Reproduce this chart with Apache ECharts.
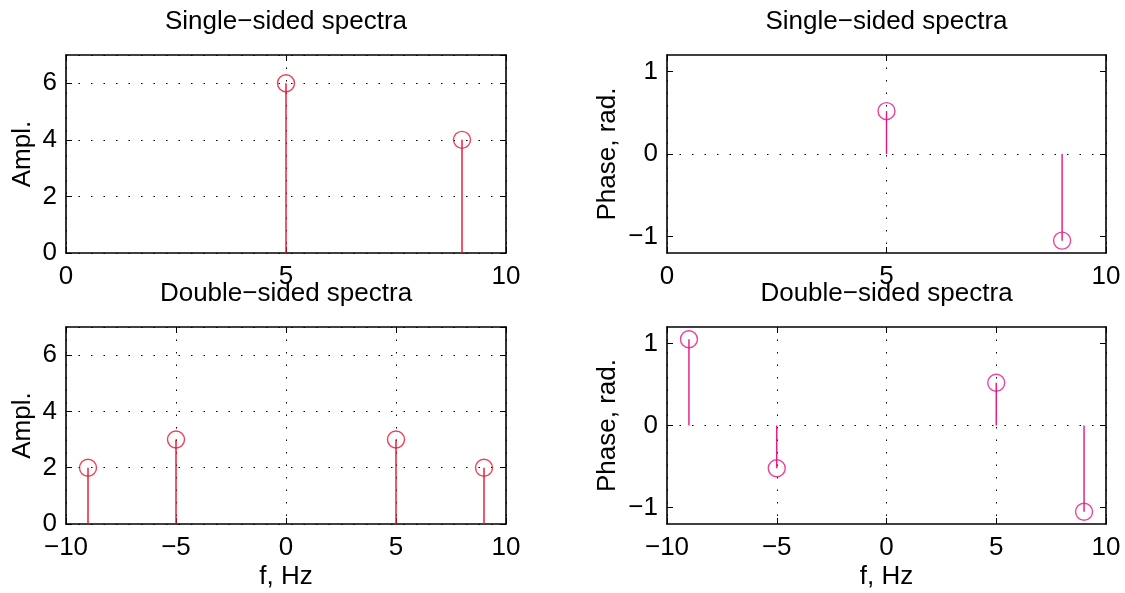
<!DOCTYPE html>
<html>
<head>
<meta charset="utf-8">
<script src="https://cdn.jsdelivr.net/npm/echarts@6/dist/echarts.min.js"></script>
<style>
html,body{margin:0;padding:0;background:#fff;}
#chart{width:1125px;height:593px;}
</style>
</head>
<body>
<div id="chart"></div>
<script>
// ---- data ----
const freqSingle = [5, 9];
const amplSingle = [6, 4];
const phaseSingle = [0.52, -1.05];
const freqDouble = [-9, -5, 5, 9];
const amplDouble = [2, 3, 3, 2];
const phaseDouble = [1.05, -0.52, 0.52, -1.05];
const titleSingle = 'Single\u2212sided spectra';
const titleDouble = 'Double\u2212sided spectra';
const amplLabel = 'Ampl.';
const phaseLabel = 'Phase, rad.';
const freqLabel = 'f, Hz';
const phaseTicks = [-1, 0, 1];

const RED = '#e8112d';
const MAG = '#e6147f';
const FONT = 'Liberation Sans, Arial, Helvetica, sans-serif';
const FS = 26;

const chart = echarts.init(document.getElementById('chart'), null, {renderer: 'canvas'});

const grids = [
  {left: 66, top: 55, width: 440, height: 198},
  {left: 667, top: 55, width: 439, height: 198},
  {left: 66, top: 327, width: 440, height: 197},
  {left: 667, top: 327, width: 439, height: 197}
];

const fmt = v => String(Math.round(v * 100) / 100).replace('-', '\u2212');
const dotted = {type: [1.5, 11], color: '#000', width: 1};
const axisLine = {show: true, onZero: false, lineStyle: {color: '#000', width: 1.6}};
const tick = {show: true, inside: true, length: 6, lineStyle: {color: '#000', width: 1}};
const labelStyle = {color: '#000', fontFamily: FONT, fontSize: FS};

const xAxes = [];
const yAxes = [];
function addX(gi, min, max, title, name) {
  xAxes.push({
    type: 'value', gridIndex: gi, position: 'bottom', min: min, max: max, interval: 5,
    axisLine: axisLine, axisTick: tick,
    axisLabel: Object.assign({formatter: fmt, margin: 11}, labelStyle),
    splitLine: {show: true, lineStyle: dotted},
    name: name || '', nameLocation: 'middle', nameGap: 40,
    nameTextStyle: labelStyle
  });
  xAxes.push({
    type: 'value', gridIndex: gi, position: 'top', min: min, max: max, interval: 5,
    axisLine: axisLine, axisTick: tick, axisLabel: {show: false}, splitLine: {show: false},
    name: title, nameLocation: 'middle', nameGap: 20,
    nameTextStyle: labelStyle
  });
}
function addYAmpl(gi) {
  yAxes.push({
    type: 'value', gridIndex: gi, position: 'left', min: 0, max: 7, interval: 2,
    axisLine: axisLine, axisTick: tick,
    axisLabel: Object.assign({formatter: fmt, margin: 9, showMaxLabel: false}, labelStyle),
    splitLine: {show: true, lineStyle: dotted},
    name: amplLabel, nameLocation: 'middle', nameGap: 30, nameTextStyle: labelStyle
  });
  yAxes.push({
    type: 'value', gridIndex: gi, position: 'right', min: 0, max: 7, interval: 2,
    axisLine: axisLine, axisTick: tick, axisLabel: {show: false}, splitLine: {show: false}
  });
}
function addYPhase(gi) {
  const cyc = ['transparent', '#000', 'transparent', 'transparent', 'transparent'];
  yAxes.push({
    type: 'value', gridIndex: gi, position: 'left', min: -1.2, max: 1.2, interval: 0.2,
    axisLine: axisLine,
    axisTick: Object.assign({}, tick, {customValues: phaseTicks}),
    axisLabel: Object.assign({formatter: fmt, margin: 9, customValues: phaseTicks}, labelStyle),
    splitLine: {show: true, lineStyle: {type: [1.5, 11], color: cyc, width: 1}},
    name: phaseLabel, nameLocation: 'middle', nameGap: 46, nameTextStyle: labelStyle
  });
  yAxes.push({
    type: 'value', gridIndex: gi, position: 'right', min: -1.2, max: 1.2, interval: 0.2,
    axisLine: axisLine,
    axisTick: Object.assign({}, tick, {customValues: phaseTicks}),
    axisLabel: {show: false}, splitLine: {show: false}
  });
}

addX(0, 0, 10, titleSingle, '');
addX(1, 0, 10, titleSingle, '');
addX(2, -10, 10, titleDouble, freqLabel);
addX(3, -10, 10, titleDouble, freqLabel);
addYAmpl(0);
addYPhase(1);
addYAmpl(2);
addYPhase(3);

function stem(gi, xs, ys, color) {
  const data = xs.map((x, i) => [x, ys[i]]);
  return [
    {
      type: 'custom', xAxisIndex: gi * 2, yAxisIndex: gi * 2, data: data, z: 3, silent: true,
      renderItem: function (params, api) {
        const p0 = api.coord([api.value(0), 0]);
        const p1 = api.coord([api.value(0), api.value(1)]);
        return {type: 'line', shape: {x1: p0[0], y1: p0[1], x2: p1[0], y2: p1[1]},
                style: {stroke: color, lineWidth: 1.4}};
      }
    },
    {
      type: 'scatter', xAxisIndex: gi * 2, yAxisIndex: gi * 2, data: data, z: 4, silent: true,
      symbol: 'circle', symbolSize: 17,
      itemStyle: {color: 'rgba(0,0,0,0)', borderColor: color, borderWidth: 1.4}
    }
  ];
}

const series = [].concat(
  stem(0, freqSingle, amplSingle, RED),
  stem(1, freqSingle, phaseSingle, MAG),
  stem(2, freqDouble, amplDouble, RED),
  stem(3, freqDouble, phaseDouble, MAG)
);

chart.setOption({
  animation: false,
  backgroundColor: '#fff',
  grid: grids,
  xAxis: xAxes,
  yAxis: yAxes,
  series: series
});
</script>
</body>
</html>
